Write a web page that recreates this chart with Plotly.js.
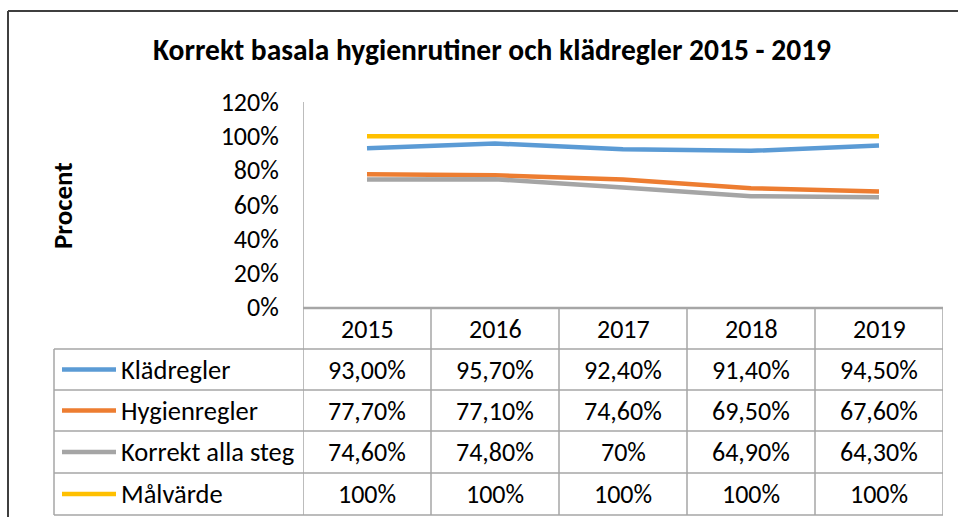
<!DOCTYPE html>
<html>
<head>
<meta charset="utf-8">
<script src="https://cdn.plot.ly/plotly-3.0.1.min.js"></script>
<style>html,body{margin:0;padding:0;background:#fff}#chart{width:958px;height:517px}</style>
</head>
<body>
<div id="chart"></div>
<script>
// ---- data ----
const years = ['2015', '2016', '2017', '2018', '2019'];
const seriesNames = ['Klädregler', 'Hygienregler', 'Korrekt alla steg', 'Målvärde'];
const kladregler = [93.0, 95.7, 92.4, 91.4, 94.5];
const hygienregler = [77.7, 77.1, 74.6, 69.5, 67.6];
const korrektAllaSteg = [74.6, 74.8, 70, 64.9, 64.3];
const malvarde = [100, 100, 100, 100, 100];
const kladreglerLabels = ['93,00%', '95,70%', '92,40%', '91,40%', '94,50%'];
const hygienreglerLabels = ['77,70%', '77,10%', '74,60%', '69,50%', '67,60%'];
const korrektLabels = ['74,60%', '74,80%', '70%', '64,90%', '64,30%'];
const malvardeLabels = ['100%', '100%', '100%', '100%', '100%'];
const yTicks = [0, 20, 40, 60, 80, 100, 120];
const yTickLabels = ['0%', '20%', '40%', '60%', '80%', '100%', '120%'];
const titleText = 'Korrekt basala hygienrutiner och klädregler 2015 - 2019';
const yTitle = 'Procent';

// ---- styling ----
const colors = ['#5B9BD5', '#ED7D31', '#A5A5A5', '#FFC000'];
const W = 958, H = 517;
const FONT = 'Carlito, Lato, "Liberation Sans", sans-serif';
const px = v => v / W;
const py = v => 1 - v / H;

const seriesValues = [kladregler, hygienregler, korrektAllaSteg, malvarde];
const seriesLabels = [kladreglerLabels, hygienreglerLabels, korrektLabels, malvardeLabels];

const traces = seriesValues.map((vals, i) => ({
  type: 'scatter', mode: 'lines', x: years, y: vals, name: seriesNames[i],
  line: {color: colors[i], width: 4.5}, hoverinfo: 'skip'
}));

// table geometry (pixels)
const headerTop = 308;
const rowEdges = [349, 390, 431, 473, 515];
const tableLeft = 54;
const gridColor = '#A6A6A6';
const cellFont = {family: FONT, size: 26, color: '#000'};

const shapes = [];
const annotations = [];

// outer chart border
shapes.push({type: 'line', xref: 'paper', yref: 'paper', x0: px(8), x1: px(960), y0: py(11), y1: py(11), line: {color: '#3F3F3F', width: 2}});
shapes.push({type: 'line', xref: 'paper', yref: 'paper', x0: px(8), x1: px(8), y0: py(11), y1: py(520), line: {color: '#3F3F3F', width: 2}});

// axis line / table left of values
shapes.push({type: 'line', xref: 'x', yref: 'paper', x0: -0.5, x1: -0.5, y0: py(102), y1: py(515), line: {color: gridColor, width: 1.5}});
// header top line
shapes.push({type: 'line', xref: 'x', yref: 'paper', x0: -0.5, x1: 4.5, y0: py(headerTop), y1: py(headerTop), line: {color: gridColor, width: 2.5}});
// category dividers and right border
for (let k = 0; k < years.length; k++) {
  shapes.push({type: 'line', xref: 'x', yref: 'paper', x0: k + 0.5, x1: k + 0.5, y0: py(headerTop), y1: py(515), line: {color: gridColor, width: 1.5}});
}
// row lines
rowEdges.forEach(r => {
  shapes.push({type: 'line', xref: 'paper', yref: 'paper', x0: px(tableLeft), x1: px(943), y0: py(r), y1: py(r), line: {color: gridColor, width: 1.5}});
});
shapes.push({type: 'line', xref: 'paper', yref: 'paper', x0: px(tableLeft), x1: px(tableLeft), y0: py(rowEdges[0]), y1: py(515), line: {color: gridColor, width: 1.5}});

// header labels (category index positions)
years.forEach((y, k) => {
  annotations.push({xref: 'x', yref: 'paper', x: k, y: py((headerTop + rowEdges[0]) / 2), text: y, showarrow: false, xanchor: 'center', yanchor: 'middle', font: cellFont});
});

// rows
seriesNames.forEach((name, i) => {
  const cy = (rowEdges[i] + rowEdges[i + 1]) / 2;
  shapes.push({type: 'line', xref: 'paper', yref: 'paper', x0: px(62), x1: px(116), y0: py(cy), y1: py(cy), line: {color: colors[i], width: 4.5}});
  annotations.push({xref: 'paper', yref: 'paper', x: px(119), y: py(cy), text: name, showarrow: false, xanchor: 'left', yanchor: 'middle', font: {family: FONT, size: 26.5, color: '#000'}});
  seriesLabels[i].forEach((lab, k) => {
    annotations.push({xref: 'x', yref: 'paper', x: k, y: py(cy), text: lab, showarrow: false, xanchor: 'center', yanchor: 'middle', font: cellFont});
  });
});

// y axis title
annotations.push({xref: 'paper', yref: 'paper', x: px(62), y: py(205), text: yTitle, textangle: -90, showarrow: false, xanchor: 'center', yanchor: 'middle', font: {family: FONT, size: 27, color: '#000', weight: 700}});

const layout = {
  width: W, height: H,
  margin: {l: 0, r: 0, t: 0, b: 0},
  paper_bgcolor: '#fff', plot_bgcolor: '#fff',
  showlegend: false,
  title: {text: titleText, x: px(492), xanchor: 'center', y: py(50), yanchor: 'middle', font: {family: FONT, size: 29.5, color: '#000', weight: 700}},
  xaxis: {type: 'category', domain: [px(303), px(943)], range: [-0.5, 4.5], showticklabels: false, showgrid: false, zeroline: false, showline: false, ticks: '', fixedrange: true},
  yaxis: {domain: [py(307), py(102)], range: [0, 120], tickmode: 'array', tickvals: yTicks, ticktext: yTickLabels, showgrid: false, zeroline: false, showline: false, ticks: 'outside', ticklen: 18, tickcolor: 'rgba(0,0,0,0)', tickfont: cellFont, fixedrange: true},
  shapes: shapes,
  annotations: annotations
};

Plotly.newPlot('chart', traces, layout, {staticPlot: true, displayModeBar: false});
</script>
</body>
</html>
